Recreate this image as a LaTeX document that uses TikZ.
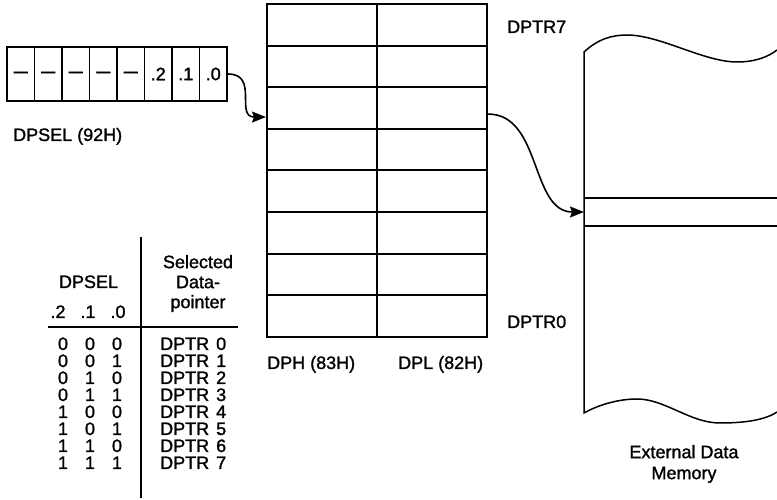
\documentclass[tikz,border=0pt]{standalone}
\usepackage{fontspec}
\setmainfont{Liberation Sans}[FakeBold=1.4]
\usetikzlibrary{arrows.meta}
\newcommand{\lbl}{\fontsize{18}{20}\selectfont}
\newcommand{\lblweit}{\fontsize{18}{21}\selectfont}
\newcommand{\strich}{{\fontsize{14}{16}\selectfont\bfseries\textemdash}}
\tikzset{zelle/.style={draw,line width=1.8pt,inner sep=0,minimum width=27.5pt,
    minimum height=54pt,font=\lbl},
  dptrzeile/.style={draw,line width=2pt,inner sep=0,minimum width=110pt,minimum height=41.625pt},
  zeiger/.style={line width=1.6pt,-{Stealth[length=14pt,width=11pt,inset=2pt]}},
  tafellinie/.style={line width=1.8pt},
  beschr/.style={inner sep=0,font=\lbl}}

\begin{document}
\begin{tikzpicture}[x=1pt,y=1pt]
\useasboundingbox (0,0) rectangle (777,500);
% DPSEL-Register waehlt einen der acht Datenzeiger (DPH/DPL), der in den externen
% Datenspeicher zeigt; Wahrheitstafel links unten
\foreach \t [count=\k from 0] in {\strich,\strich,\strich,\strich,\strich,.2,.1,.0}
{ \pgfmathtruncatemacro{\b}{7-\k}
  \node[zelle] (bit\b) at ({7+27.5*(\k+0.5)},426) {\t}; }
\node[beschr,anchor=base west] (dpsel) at (13,359) {DPSEL (92H)};
\foreach \n in {0,...,7}
{ \node[dptrzeile] (dph\n) at (322,{496-41.625*(7-\n+0.5)}) {};
  \node[dptrzeile] (dpl\n) at (432,{496-41.625*(7-\n+0.5)}) {}; }
\node[beschr,anchor=base west] (dptrsieben) at (507,467) {DPTR7};
\node[beschr,anchor=base west] (dptrnull) at (507,172) {DPTR0};
\node[beschr,anchor=base west] (dphname) at (267,131) {DPH (83H)};
\node[beschr,anchor=base west] (dplname) at (398,131) {DPL (82H)};
% externer Speicher, rechts offen
\draw[line width=1.5pt] (777,450) .. controls (768,443) and (755,438) .. (737,438)
  .. controls (704,438) and (660,465) .. (627,465)
  .. controls (612,465) and (598,461) .. (584,448) -- (584,87)
  .. controls (600,96) and (620,101) .. (637,101)
  .. controls (665,101) and (690,77) .. (720,77)
  .. controls (745,77) and (765,80) .. (777,88);
\draw[line width=1.3pt] (584,302) -- (777,302) (584,274) -- (777,274);
\coordinate (speicher) at (584,288);
\node[inner sep=0,font=\lblweit,align=center] (extmem) at (684,36) {External Data\\Memory};
\draw[zeiger] (bit0.east) to[out=0,in=180,looseness=1.4] ([yshift=-9pt]dph5.west);
\draw[zeiger] ([yshift=-6pt]dpl5.east) to[out=0,in=180] (speicher);
% Wahrheitstafel
\draw[tafellinie] (141,263) -- (141,2) (48,173) -- (238,173);
\node[beschr,anchor=base] (kopfdpsel) at (88.5,212) {DPSEL};
\node[beschr,anchor=base] (kopfzwei) at (58,182) {.2};
\node[beschr,anchor=base] (kopfeins) at (88,182) {.1};
\node[beschr,anchor=base] (kopfnull) at (118,182) {.0};
\node[beschr,align=center] (kopfwahl) at (198,216.5) {Selected\\Data-\\pointer};
\foreach \a/\b/\c [count=\n from 0] in {0/0/0,0/0/1,0/1/0,0/1/1,1/0/0,1/0/1,1/1/0,1/1/1}
{ \node[beschr,anchor=base] (za\n) at (63,{150-17*\n}) {\a};
  \node[beschr,anchor=base] (zb\n) at (90,{150-17*\n}) {\b};
  \node[beschr,anchor=base] (zc\n) at (117,{150-17*\n}) {\c};
  \node[beschr,anchor=base west] (zdptr\n) at (160,{150-17*\n}) {DPTR\hspace{7pt}\n}; }
\end{tikzpicture}
\end{document}
